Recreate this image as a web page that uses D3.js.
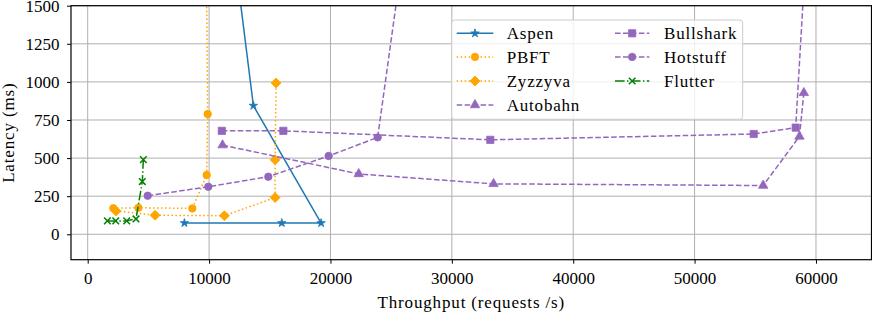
<!DOCTYPE html>
<html><head><meta charset="utf-8">
<script src="https://cdn.jsdelivr.net/npm/d3@7"></script>
<style>
html,body{margin:0;padding:0;background:#fff;}
</style></head>
<body>
<svg id="chart" width="872" height="312"></svg>
<script>
// ---- data ----
const seriesNames = ["Aspen","PBFT","Zyzzyva","Autobahn","Bullshark","Hotstuff","Flutter"];
const aspenX = [7965, 15990, 19230, 13650, 7270];
const aspenY = [74, 74, 74, 844, 4900];
const pbftX = [2110, 4180, 8620, 9804, 9886, 9460];
const pbftY = [171, 174, 170, 389, 789, 4500];
const zyzzyvaX = [2331, 5550, 11260, 15440, 15440, 15520];
const zyzzyvaY = [153, 125, 122, 241, 489, 993];
const autobahnX = [11110, 22330, 33440, 55650, 58640, 59000];
const autobahnY = [585, 396, 331, 320, 642, 928];
const bullsharkX = [11050, 16120, 33170, 54870, 58330, 61400];
const bullsharkY = [679, 679, 620, 658, 700, 4900];
const hotstuffX = [4943, 9937, 14880, 19850, 23890, 28000];
const hotstuffY = [253, 312, 378, 514, 636, 3000];
const flutterX = [1620, 2310, 3215, 3980, 4500, 4585];
const flutterY = [88, 88, 88, 101, 346, 490];
const xTicks = [0, 10000, 20000, 30000, 40000, 50000, 60000];
const yTicks = [0, 250, 500, 750, 1000, 1250, 1500];
const xLabel = "Throughput (requests /s)";
const yLabel = "Latency (ms)";

const FONT = "'Liberation Serif', 'DejaVu Serif', 'Times New Roman', serif";

const styles = {
  Aspen:    {color:"#1f77b4", dash:null,            marker:"star"},
  PBFT:     {color:"#ffa500", dash:"1.5,2.475",     marker:"circle"},
  Zyzzyva:  {color:"#ffa500", dash:"1.5,2.475",     marker:"diamond"},
  Autobahn: {color:"#9467bd", dash:"5.55,2.4",      marker:"triangle"},
  Bullshark:{color:"#9467bd", dash:"5.55,2.4",      marker:"square"},
  Hotstuff: {color:"#9467bd", dash:"5.55,2.4",      marker:"circle"},
  Flutter:  {color:"#008000", dash:"9.6,2.4,1.5,2.4", marker:"x"}
};
const seriesData = {
  Aspen: [aspenX, aspenY], PBFT: [pbftX, pbftY], Zyzzyva: [zyzzyvaX, zyzzyvaY],
  Autobahn: [autobahnX, autobahnY], Bullshark: [bullsharkX, bullsharkY],
  Hotstuff: [hotstuffX, hotstuffY], Flutter: [flutterX, flutterY]
};

// ---- layout ----
const L = 71, R = 871.5, T = 5.7, B = 259.7;
const x = d3.scaleLinear().domain([-1376, 64575]).range([L, R]);
const y = d3.scaleLinear().domain([-166.7, 1500]).range([B, T]);

const svg = d3.select("#chart").style("font-family", FONT);
svg.append("defs").append("clipPath").attr("id","clip")
  .append("rect").attr("x",L).attr("y",T).attr("width",R-L).attr("height",B-T);

// grid
const grid = svg.append("g");
grid.selectAll("line.gx").data(xTicks).join("line")
  .attr("x1",d=>x(d)).attr("x2",d=>x(d)).attr("y1",T).attr("y2",B)
  .attr("stroke","#b0b0b0").attr("stroke-width",1);
grid.selectAll("line.gy").data(yTicks).join("line")
  .attr("y1",d=>y(d)).attr("y2",d=>y(d)).attr("x1",L).attr("x2",R)
  .attr("stroke","#b0b0b0").attr("stroke-width",1);

// axes
const fs = 17;
const xAxis = d3.axisBottom(x).tickValues(xTicks).tickFormat(d3.format("d")).tickSize(4).tickPadding(8);
const gx = svg.append("g").attr("transform",`translate(0,${B})`).call(xAxis);
gx.attr("font-family", null).attr("font-size", null);
gx.select(".domain").remove();
gx.selectAll("text").attr("font-size",fs).style("font-family",FONT).attr("fill","#000");
gx.selectAll("line").attr("stroke","#000");

const yAxis = d3.axisLeft(y).tickValues(yTicks).tickFormat(d3.format("d")).tickSize(4).tickPadding(7.5);
const gy = svg.append("g").attr("transform",`translate(${L},0)`).call(yAxis);
gy.attr("font-family", null).attr("font-size", null);
gy.select(".domain").remove();
gy.selectAll("text").attr("font-size",fs).style("font-family",FONT).attr("fill","#000");
gy.selectAll("line").attr("stroke","#000");

// marker path factory
function markerPath(type){
  switch(type){
    case "star": return d3.symbol(d3.symbolStar, 22)();
    case "circle": return d3.symbol(d3.symbolCircle, 44)();
    case "diamond": return "M0,-5L5,0L0,5L-5,0Z";
    case "triangle": return d3.symbol(d3.symbolTriangle, 38)();
    case "square": return d3.symbol(d3.symbolSquare, 52)();
    case "x": return "M-3.3,-3.3L3.3,3.3M-3.3,3.3L3.3,-3.3";
  }
}
function drawMarker(g, type, color, cx, cy){
  const p = g.append("path").attr("d", markerPath(type)).attr("transform",`translate(${cx},${cy})`);
  if(type==="x") p.attr("fill","none").attr("stroke",color).attr("stroke-width",1.5);
  else p.attr("fill",color).attr("stroke",color).attr("stroke-width",0.8);
}

// series
const plot = svg.append("g").attr("clip-path","url(#clip)");
const line = d3.line().x(d=>x(d[0])).y(d=>y(d[1]));
seriesNames.forEach(name=>{
  const st = styles[name];
  const [xs, ys] = seriesData[name];
  const pts = xs.map((v,i)=>[v, ys[i]]);
  const g = plot.append("g");
  g.append("path").attr("d", line(pts)).attr("fill","none")
    .attr("stroke", st.color).attr("stroke-width",1.5)
    .attr("stroke-dasharray", st.dash).attr("stroke-linejoin","round");
  pts.forEach(p=>drawMarker(g, st.marker, st.color, x(p[0]), y(p[1])));
});

// frame
svg.append("rect").attr("x",L).attr("y",T).attr("width",R-L).attr("height",B-T)
  .attr("fill","none").attr("stroke","#000").attr("stroke-width",1.2);

// labels
svg.append("text").attr("x",(L+R)/2).attr("y",308).attr("text-anchor","middle")
  .style("font-family",FONT).attr("font-size",fs).attr("letter-spacing",0.85).text(xLabel);
svg.append("text").attr("transform",`translate(13.5,${(T+B)/2}) rotate(-90)`)
  .style("font-family",FONT).attr("text-anchor","middle").attr("font-size",fs).attr("letter-spacing",0.85).text(yLabel);

// legend
const lg = svg.append("g");
lg.append("rect").attr("x",451.7).attr("y",20).attr("width",291).attr("height",99.3)
  .attr("rx",3).attr("fill","#fff").attr("fill-opacity",0.8)
  .attr("stroke","#cccccc").attr("stroke-width",1);
const rowY = [33.3, 56.9, 81, 105];
const cols = [{x0:456.7, x1:493.3, tx:506.7}, {x0:615, x1:649.3, tx:664}];
seriesNames.forEach((name,i)=>{
  const c = cols[i<4?0:1], r = rowY[i<4?i:i-4];
  const st = styles[name];
  lg.append("line").attr("x1",c.x0).attr("x2",c.x1).attr("y1",r).attr("y2",r)
    .attr("stroke",st.color).attr("stroke-width",1.5).attr("stroke-dasharray",st.dash);
  drawMarker(lg, st.marker, st.color, (c.x0+c.x1)/2, r);
  lg.append("text").attr("x",c.tx).attr("y",r+6).attr("font-size",fs)
    .style("font-family",FONT).attr("letter-spacing",0.8).text(name);
});
</script>
</body></html>
